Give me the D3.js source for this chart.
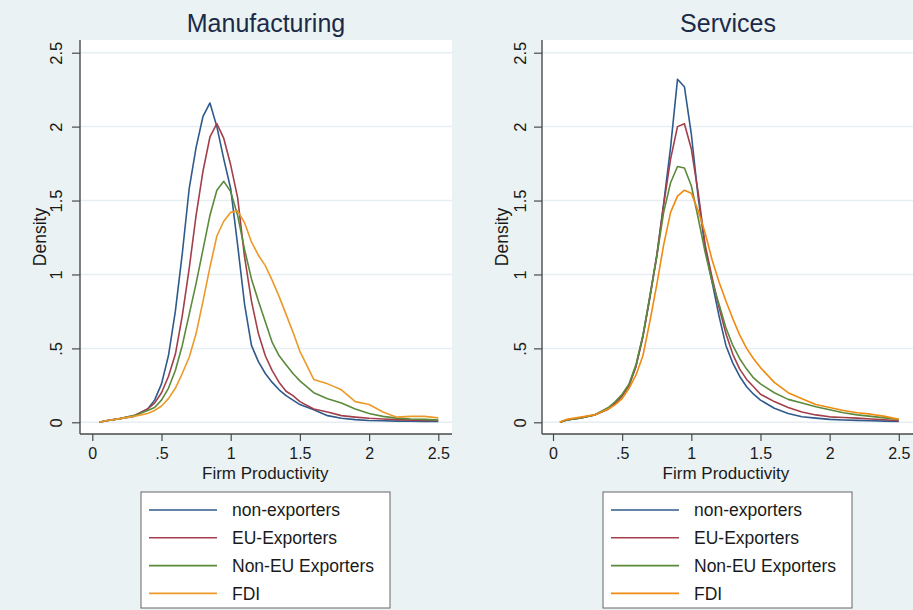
<!DOCTYPE html>
<html>
<head>
<meta charset="utf-8">
<script src="https://cdn.jsdelivr.net/npm/d3@7"></script>
<style>
html,body{margin:0;padding:0;background:#eaf2f3;}
svg{display:block;font-family:"Liberation Sans",Arial,Helvetica,sans-serif;}
</style>
</head>
<body>
<svg id="chart" width="913" height="610"></svg>
<script>
// ---------- data ----------
const grid = [0.05,0.1,0.2,0.3,0.4,0.45,0.5,0.55,0.6,0.65,0.7,0.75,0.8,0.85,0.9,0.95,1.0,1.05,1.1,1.15,1.2,1.25,1.3,1.35,1.4,1.45,1.5,1.6,1.7,1.8,1.9,2.0,2.1,2.2,2.3,2.4,2.5];

const seriesNames = ["non-exporters","EU-Exporters","Non-EU Exporters","FDI"];
const panelTitles = ["Manufacturing","Services"];
const xTicks = [0,0.5,1,1.5,2,2.5];
const xTickLabels = ["0",".5","1","1.5","2","2.5"];
const yTicks = [0,0.5,1,1.5,2,2.5];
const yTickLabels = ["0",".5","1","1.5","2","2.5"];
const xTitle = "Firm Productivity";
const yTitle = "Density";

// Manufacturing
const manuNonExp = [0,0.01,0.025,0.04,0.09,0.15,0.26,0.45,0.75,1.14,1.58,1.86,2.07,2.16,2.0,1.78,1.58,1.2,0.8,0.52,0.41,0.33,0.27,0.22,0.18,0.15,0.12,0.085,0.045,0.027,0.018,0.012,0.01,0.008,0.007,0.006,0.005];
const manuEU     = [0,0.01,0.025,0.045,0.09,0.13,0.2,0.31,0.46,0.72,1.04,1.4,1.7,1.93,2.02,1.92,1.74,1.52,1.12,0.82,0.6,0.45,0.35,0.27,0.21,0.18,0.14,0.09,0.07,0.045,0.035,0.027,0.022,0.018,0.015,0.013,0.012];
const manuNonEU  = [0,0.01,0.025,0.045,0.08,0.1,0.15,0.23,0.35,0.52,0.73,0.94,1.17,1.4,1.57,1.63,1.56,1.4,1.17,0.97,0.82,0.68,0.54,0.45,0.39,0.33,0.28,0.2,0.16,0.13,0.09,0.06,0.04,0.028,0.022,0.02,0.015];
const manuFDI    = [0,0.01,0.025,0.04,0.06,0.08,0.11,0.16,0.23,0.33,0.44,0.6,0.82,1.05,1.26,1.36,1.42,1.43,1.35,1.22,1.13,1.06,0.96,0.85,0.73,0.61,0.48,0.29,0.26,0.22,0.14,0.12,0.07,0.035,0.04,0.04,0.03];

// Services
const servNonExp = [0,0.015,0.03,0.05,0.09,0.13,0.18,0.25,0.38,0.58,0.84,1.12,1.48,1.86,2.32,2.27,1.95,1.52,1.18,0.95,0.72,0.52,0.4,0.31,0.24,0.19,0.15,0.095,0.06,0.038,0.028,0.02,0.016,0.013,0.01,0.008,0.005];
const servEU     = [0,0.015,0.03,0.05,0.09,0.13,0.18,0.25,0.38,0.58,0.85,1.13,1.47,1.78,2.0,2.02,1.85,1.55,1.2,0.98,0.78,0.6,0.46,0.36,0.29,0.24,0.19,0.14,0.1,0.07,0.05,0.037,0.032,0.028,0.022,0.017,0.01];
const servNonEU  = [0,0.015,0.03,0.05,0.1,0.14,0.19,0.26,0.39,0.59,0.85,1.12,1.42,1.62,1.73,1.72,1.6,1.38,1.15,0.95,0.8,0.64,0.52,0.43,0.36,0.3,0.26,0.2,0.155,0.13,0.105,0.085,0.065,0.05,0.04,0.03,0.02];
const servFDI    = [0,0.02,0.035,0.05,0.09,0.12,0.16,0.23,0.32,0.45,0.68,0.93,1.2,1.42,1.53,1.57,1.55,1.43,1.28,1.1,0.95,0.82,0.7,0.59,0.5,0.43,0.37,0.27,0.2,0.16,0.12,0.1,0.08,0.065,0.055,0.04,0.02];

// ---------- drawing ----------
const colors = ["#2f5a8c","#a23f4a","#5a8a3c","#eb9a2a"];
const svg = d3.select("#chart");
svg.append("rect").attr("width",913).attr("height",610).attr("fill","#eaf2f3");

const panels = [
  {title:panelTitles[0], series:[manuNonExp,manuEU,manuNonEU,manuFDI], left:80, right:452, xr:[92.3,438.3], titleX:266, yLabX:56, yTitleX:40, legX:141, orange:"#eb9a2a"},
  {title:panelTitles[1], series:[servNonExp,servEU,servNonEU,servFDI], left:542, right:913, xr:[553,898.8], titleX:728, yLabX:520, yTitleX:502, legX:603, orange:"#f08a10"}
];
const plotTop = 40, plotBottom = 434;

panels.forEach(p => {
  const g = svg.append("g");
  const x = d3.scaleLinear().domain([0,2.5]).range(p.xr);
  const y = d3.scaleLinear().domain([0,2.5]).range([422.3,52.7]);

  g.append("rect").attr("x",p.left).attr("y",plotTop).attr("width",p.right-p.left).attr("height",plotBottom-plotTop).attr("fill","#ffffff");

  // gridlines
  g.selectAll(".grid").data(yTicks).join("line")
    .attr("x1",p.left).attr("x2",p.right)
    .attr("y1",d=>y(d)).attr("y2",d=>y(d))
    .attr("stroke","#e6eef1").attr("stroke-width",1.5);

  // y axis
  const yAxis = d3.axisLeft(y).tickValues(yTicks).tickFormat((d,i)=>yTickLabels[i]).tickSize(8).tickSizeOuter(0);
  const ya = g.append("g").attr("transform",`translate(${p.left},0)`).call(yAxis);
  ya.select(".domain").attr("d",`M0,${plotTop}V${plotBottom}`).attr("stroke","#4a4a4a").attr("stroke-width",1.4);
  ya.selectAll(".tick line").attr("stroke","#4a4a4a").attr("stroke-width",1.2);
  ya.selectAll(".tick text")
    .attr("font-size",16.5).attr("fill","#1a1a1a")
    .attr("text-anchor","middle")
    .attr("x",0).attr("dy",0)
    .attr("transform",`translate(${p.yLabX-p.left+6},0) rotate(-90)`);

  // x axis
  const xAxis = d3.axisBottom(x).tickValues(xTicks).tickFormat((d,i)=>xTickLabels[i]).tickSize(7).tickSizeOuter(0);
  const xa = g.append("g").attr("transform",`translate(0,${plotBottom})`).call(xAxis);
  xa.select(".domain").attr("d",`M${p.left},0H${p.right}`).attr("stroke","#4a4a4a").attr("stroke-width",1.4);
  xa.selectAll(".tick line").attr("stroke","#4a4a4a").attr("stroke-width",1.2);
  xa.selectAll(".tick text").attr("font-size",16).attr("fill","#1a1a1a").attr("y",25).attr("dy",0);

  // curves
  const line = d3.line().x((d,i)=>x(grid[i])).y(d=>y(d)).curve(d3.curveLinear);
  p.series.forEach((s,k) => {
    g.append("path").datum(s).attr("d",line)
      .attr("fill","none")
      .attr("stroke", k===3 ? p.orange : colors[k])
      .attr("stroke-width",1.6)
      .attr("stroke-linejoin","round");
  });

  // titles
  g.append("text").attr("x",p.titleX).attr("y",32).attr("text-anchor","middle")
    .attr("font-size",25).attr("fill","#1c2a48").text(p.title);
  g.append("text").attr("x",(p.xr[0]+p.xr[1])/2).attr("y",479).attr("text-anchor","middle")
    .attr("font-size",17).attr("fill","#1a1a1a").text(xTitle);
  g.append("text").attr("transform",`translate(${p.yTitleX},237) rotate(-90)`).attr("text-anchor","middle")
    .attr("dy","0.35em").attr("font-size",17.5).attr("fill","#1a1a1a").text(yTitle);

  // legend
  const lg = g.append("g").attr("transform",`translate(${p.legX},492)`);
  lg.append("rect").attr("x",0).attr("y",0).attr("width",249).attr("height",116)
    .attr("fill","#ffffff").attr("stroke","#666").attr("stroke-width",1);
  seriesNames.forEach((n,k) => {
    const yy = 18 + k*27.8;
    lg.append("line").attr("x1",8).attr("x2",76).attr("y1",yy).attr("y2",yy)
      .attr("stroke", k===3 ? p.orange : colors[k]).attr("stroke-width",1.6);
    lg.append("text").attr("x",91).attr("y",yy).attr("dy","0.35em")
      .attr("font-size",17.5).attr("fill","#1a1a1a").text(n);
  });
});
</script>
</body>
</html>
